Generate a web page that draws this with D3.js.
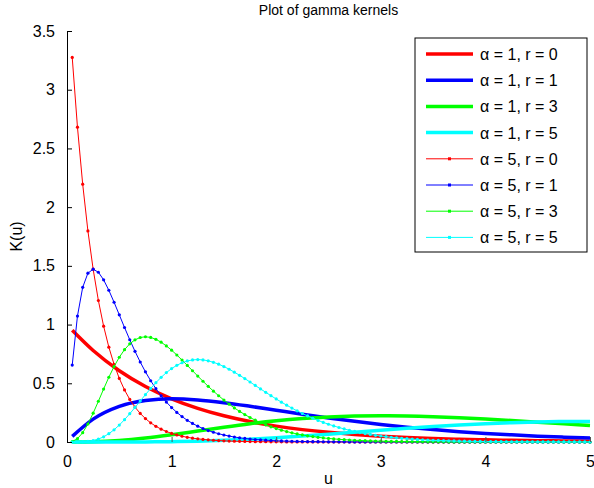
<!DOCTYPE html>
<html>
<head>
<meta charset="utf-8">
<script src="https://cdn.jsdelivr.net/npm/d3@7"></script>
<style>
  body { margin: 0; background: #fff; }
  svg text { font-family: "Liberation Sans", Arial, sans-serif; fill: #000; }
</style>
</head>
<body>
<div id="chart"></div>
<script>
// u grid for the alpha = 1 curves (smooth thick lines)
const uCoarse = [0.05, 0.25, 0.5, 0.75, 1, 1.25, 1.5, 1.75, 2, 2.25, 2.5, 2.75, 3, 3.25, 3.5, 3.75, 4, 4.25, 4.5, 4.75, 5];

// u grid for the alpha = 5 curves (one marker per sample)
const uFine = [0.05, 0.1, 0.15, 0.2, 0.25, 0.3, 0.35, 0.4, 0.45, 0.5,
  0.55, 0.6, 0.65, 0.7, 0.75, 0.8, 0.85, 0.9, 0.95, 1,
  1.05, 1.1, 1.15, 1.2, 1.25, 1.3, 1.35, 1.4, 1.45, 1.5,
  1.55, 1.6, 1.65, 1.7, 1.75, 1.8, 1.85, 1.9, 1.95, 2,
  2.05, 2.1, 2.15, 2.2, 2.25, 2.3, 2.35, 2.4, 2.45, 2.5,
  2.55, 2.6, 2.65, 2.7, 2.75, 2.8, 2.85, 2.9, 2.95, 3,
  3.05, 3.1, 3.15, 3.2, 3.25, 3.3, 3.35, 3.4, 3.45, 3.5,
  3.55, 3.6, 3.65, 3.7, 3.75, 3.8, 3.85, 3.9, 3.95, 4,
  4.05, 4.1, 4.15, 4.2, 4.25, 4.3, 4.35, 4.4, 4.45, 4.5,
  4.55, 4.6, 4.65, 4.7, 4.75, 4.8, 4.85, 4.9, 4.95, 5];

const a1r0 = [0.9512, 0.7788, 0.6065, 0.4724, 0.3679, 0.2865, 0.2231, 0.1738, 0.1353, 0.1054, 0.0821,
  0.0639, 0.0498, 0.0388, 0.0302, 0.0235, 0.0183, 0.0143, 0.0111, 0.0087, 0.0067];
const a1r1 = [0.0476, 0.1947, 0.3033, 0.3543, 0.3679, 0.3581, 0.3347, 0.3041, 0.2707, 0.2372, 0.2052,
  0.1758, 0.1494, 0.1261, 0.1057, 0.0882, 0.0733, 0.0608, 0.0500, 0.0411, 0.0337];
const a1r3 = [0.0000, 0.0020, 0.0126, 0.0332, 0.0613, 0.0933, 0.1255, 0.1552, 0.1804, 0.2001, 0.2138,
  0.2215, 0.2240, 0.2220, 0.2158, 0.2065, 0.1954, 0.1824, 0.1687, 0.1545, 0.1404];
const a1r5 = [0.0000, 0.0000, 0.0002, 0.0009, 0.0031, 0.0073, 0.0141, 0.0238, 0.0361, 0.0507, 0.0668,
  0.0838, 0.1008, 0.1172, 0.1322, 0.1452, 0.1563, 0.1648, 0.1707, 0.1743, 0.1755];

const a5r0 = [3.2749, 2.6813, 2.1952, 1.7973, 1.4715, 1.2048, 0.9864, 0.8076, 0.6612, 0.5413,
  0.4432, 0.3629, 0.2971, 0.2432, 0.1991, 0.1630, 0.1335, 0.1093, 0.0895, 0.0733,
  0.0600, 0.0491, 0.0402, 0.0329, 0.0270, 0.0221, 0.0181, 0.0148, 0.0121, 0.0099,
  0.0081, 0.0066, 0.0054, 0.0045, 0.0036, 0.0030, 0.0024, 0.0020, 0.0016, 0.0013,
  0.0011, 0.0009, 0.0007, 0.0006, 0.0005, 0.0004, 0.0003, 0.0003, 0.0002, 0.0002,
  0, 0, 0, 0, 0, 0, 0, 0, 0, 0,
  0, 0, 0, 0, 0, 0, 0, 0, 0, 0,
  0, 0, 0, 0, 0, 0, 0, 0, 0, 0,
  0, 0, 0, 0, 0, 0, 0, 0, 0, 0,
  0, 0, 0, 0, 0, 0, 0, 0, 0, 0];
const a5r1 = [0.6550, 1.0725, 1.3171, 1.4379, 1.4715, 1.4457, 1.3810, 1.2922, 1.1902, 1.0827,
  0.9750, 0.8709, 0.7724, 0.6811, 0.5975, 0.5217, 0.4538, 0.3934, 0.3400, 0.2931,
  0.2520, 0.2161, 0.1849, 0.1580, 0.1348, 0.1148, 0.0976, 0.0829, 0.0703, 0.0595,
  0.0503, 0.0425, 0.0359, 0.0302, 0.0255, 0.0215, 0.0181, 0.0152, 0.0128, 0.0107,
  0.0090, 0.0076, 0.0063, 0.0053, 0.0044, 0.0037, 0.0031, 0.0026, 0.0022, 0.0018,
  0.0015, 0.0013, 0.0011, 0.0009, 0.0007, 0.0006, 0.0005, 0.0004, 0.0003, 0.0003,
  0.0002, 0.0002, 0.0002, 0.0001, 0.0001, 0.0001, 0.0001, 0.0001, 0.0001, 0.0001,
  0, 0, 0, 0, 0, 0, 0, 0, 0, 0,
  0, 0, 0, 0, 0, 0, 0, 0, 0, 0,
  0, 0, 0, 0, 0, 0, 0, 0, 0, 0];
const a5r3 = [0.0044, 0.0286, 0.0790, 0.1534, 0.2453, 0.3470, 0.4511, 0.5513, 0.6427, 0.7218,
  0.7865, 0.8361, 0.8702, 0.8899, 0.8962, 0.8904, 0.8744, 0.8498, 0.8183, 0.7816,
  0.7409, 0.6974, 0.6523, 0.6068, 0.5615, 0.5172, 0.4742, 0.4330, 0.3938, 0.3570,
  0.3224, 0.2904, 0.2607, 0.2335, 0.2085, 0.1858, 0.1651, 0.1464, 0.1296, 0.1145,
  0.1010, 0.0889, 0.0781, 0.0685, 0.0600, 0.0524, 0.0458, 0.0399, 0.0348, 0.0303,
  0.0263, 0.0228, 0.0198, 0.0171, 0.0148, 0.0128, 0.0111, 0.0095, 0.0082, 0.0071,
  0.0061, 0.0052, 0.0045, 0.0039, 0.0033, 0.0028, 0.0024, 0.0021, 0.0018, 0.0015,
  0.0013, 0.0011, 0.0009, 0.0008, 0.0007, 0.0006, 0.0005, 0.0004, 0.0003, 0.0003,
  0.0002, 0.0002, 0.0002, 0.0002, 0.0002, 0.0001, 0.0001, 0.0001, 0.0001, 0.0001,
  0, 0, 0, 0, 0, 0, 0, 0, 0, 0];
const a5r5 = [0.0000, 0.0002, 0.0014, 0.0049, 0.0123, 0.0250, 0.0442, 0.0706, 0.1041, 0.1444,
  0.1903, 0.2408, 0.2941, 0.3489, 0.4033, 0.4559, 0.5054, 0.5507, 0.5908, 0.6252,
  0.6533, 0.6749, 0.6901, 0.6990, 0.7019, 0.6991, 0.6913, 0.6789, 0.6624, 0.6425,
  0.6197, 0.5947, 0.5679, 0.5398, 0.5109, 0.4815, 0.4521, 0.4230, 0.3943, 0.3664,
  0.3394, 0.3135, 0.2887, 0.2652, 0.2429, 0.2220, 0.2024, 0.1841, 0.1671, 0.1513,
  0.1368, 0.1234, 0.1111, 0.0999, 0.0897, 0.0803, 0.0719, 0.0642, 0.0572, 0.0510,
  0.0453, 0.0403, 0.0357, 0.0316, 0.0280, 0.0247, 0.0218, 0.0192, 0.0169, 0.0149,
  0.0131, 0.0115, 0.0101, 0.0088, 0.0077, 0.0068, 0.0059, 0.0052, 0.0045, 0.0039,
  0.0034, 0.0030, 0.0026, 0.0023, 0.0020, 0.0017, 0.0015, 0.0013, 0.0011, 0.0010,
  0.0008, 0.0007, 0.0006, 0.0005, 0.0005, 0.0004, 0.0004, 0.0003, 0.0003, 0.0002];

const seriesNames = ['α = 1, r = 0', 'α = 1, r = 1', 'α = 1, r = 3', 'α = 1, r = 5',
  'α = 5, r = 0', 'α = 5, r = 1', 'α = 5, r = 3', 'α = 5, r = 5'];
const seriesValues = [a1r0, a1r1, a1r3, a1r5, a5r0, a5r1, a5r3, a5r5];
const xTicks = [0, 1, 2, 3, 4, 5];
const yTicks = [0, 0.5, 1, 1.5, 2, 2.5, 3, 3.5];

const colors = ['#ff0000', '#0000ff', '#00ff00', '#00ffff', '#ff0000', '#0000ff', '#00ff00', '#00ffff'];

const W = 594, H = 488;
const margin = {top: 31, right: 4, bottom: 46, left: 67};
const width = W - margin.left - margin.right;
const height = H - margin.top - margin.bottom;

const x = d3.scaleLinear().domain([0, 5]).range([0, width]);
const y = d3.scaleLinear().domain([0, 3.5]).range([height, 0]);

const svg = d3.select('#chart').append('svg')
  .attr('width', W)
  .attr('height', H);

const g = svg.append('g')
  .attr('transform', 'translate(' + margin.left + ',' + margin.top + ')');

// data lines
const series = seriesValues.map((vals, i) => {
  const us = i < 4 ? uCoarse : uFine;
  return {name: seriesNames[i], color: colors[i], thick: i < 4,
    points: vals.map((v, j) => [us[j], v])};
});

const lineSmooth = d3.line().x(d => x(d[0])).y(d => y(d[1])).curve(d3.curveMonotoneX);
const lineRaw = d3.line().x(d => x(d[0])).y(d => y(d[1]));

series.forEach(s => {
  g.append('path')
    .attr('d', s.thick ? lineSmooth(s.points) : lineRaw(s.points))
    .attr('fill', 'none')
    .attr('stroke', s.color)
    .attr('stroke-width', s.thick ? 3.5 : 1);
  if (!s.thick) {
    g.append('g').selectAll('circle')
      .data(s.points)
      .enter().append('circle')
      .attr('cx', d => x(d[0]))
      .attr('cy', d => y(d[1]))
      .attr('r', 1.6)
      .attr('fill', s.color);
  }
});

// axes (MATLAB style: ticks pointing inward, no box)
const xAxis = d3.axisBottom(x).tickValues(xTicks).tickSizeInner(-5).tickSizeOuter(0).tickPadding(14)
  .tickFormat(d3.format('d'));
const yAxis = d3.axisLeft(y).tickValues(yTicks).tickSizeInner(-5).tickSizeOuter(0).tickPadding(12)
  .tickFormat(d => d === 0 ? '0' : d3.format('')(d));

const gx = g.append('g')
  .attr('transform', 'translate(0,' + height + ')')
  .call(xAxis);
const gy = g.append('g').call(yAxis);

[gx, gy].forEach(a => {
  a.select('.domain').attr('stroke', '#000').attr('stroke-width', 1);
  a.selectAll('.tick line').attr('stroke', '#000');
  a.selectAll('.tick text').style('font-size', '16px').style('font-family', '"Liberation Sans", Arial, sans-serif');
});
gx.select('.domain').remove();
gx.selectAll('.tick line').attr('stroke', '#555');

// title and axis labels
svg.append('text')
  .attr('x', margin.left + width / 2)
  .attr('y', 15)
  .attr('text-anchor', 'middle')
  .style('font-size', '14px')
  .text('Plot of gamma kernels');

svg.append('text')
  .attr('x', margin.left + width / 2)
  .attr('y', 484)
  .attr('text-anchor', 'middle')
  .style('font-size', '16px')
  .text('u');

svg.append('text')
  .attr('transform', 'translate(22,' + (margin.top + height / 2) + ') rotate(-90)')
  .attr('text-anchor', 'middle')
  .style('font-size', '16px')
  .text('K(u)');

// legend
const legend = svg.append('g').attr('transform', 'translate(415,38)');
legend.append('rect')
  .attr('width', 172)
  .attr('height', 214)
  .attr('fill', '#fff')
  .attr('stroke', '#000')
  .attr('stroke-width', 1);

series.forEach((s, i) => {
  const ly = 16 + i * 26.2;
  const row = legend.append('g').attr('transform', 'translate(0,' + ly + ')');
  row.append('line')
    .attr('x1', 11).attr('x2', 58)
    .attr('y1', 0).attr('y2', 0)
    .attr('stroke', s.color)
    .attr('stroke-width', s.thick ? 3.5 : 1);
  if (!s.thick) {
    row.append('rect')
      .attr('x', 33).attr('y', -1.5)
      .attr('width', 3).attr('height', 3)
      .attr('fill', s.color);
  }
  row.append('text')
    .attr('x', 65)
    .attr('y', 6)
    .style('font-size', '16px')
    .text(s.name);
});
</script>
</body>
</html>
